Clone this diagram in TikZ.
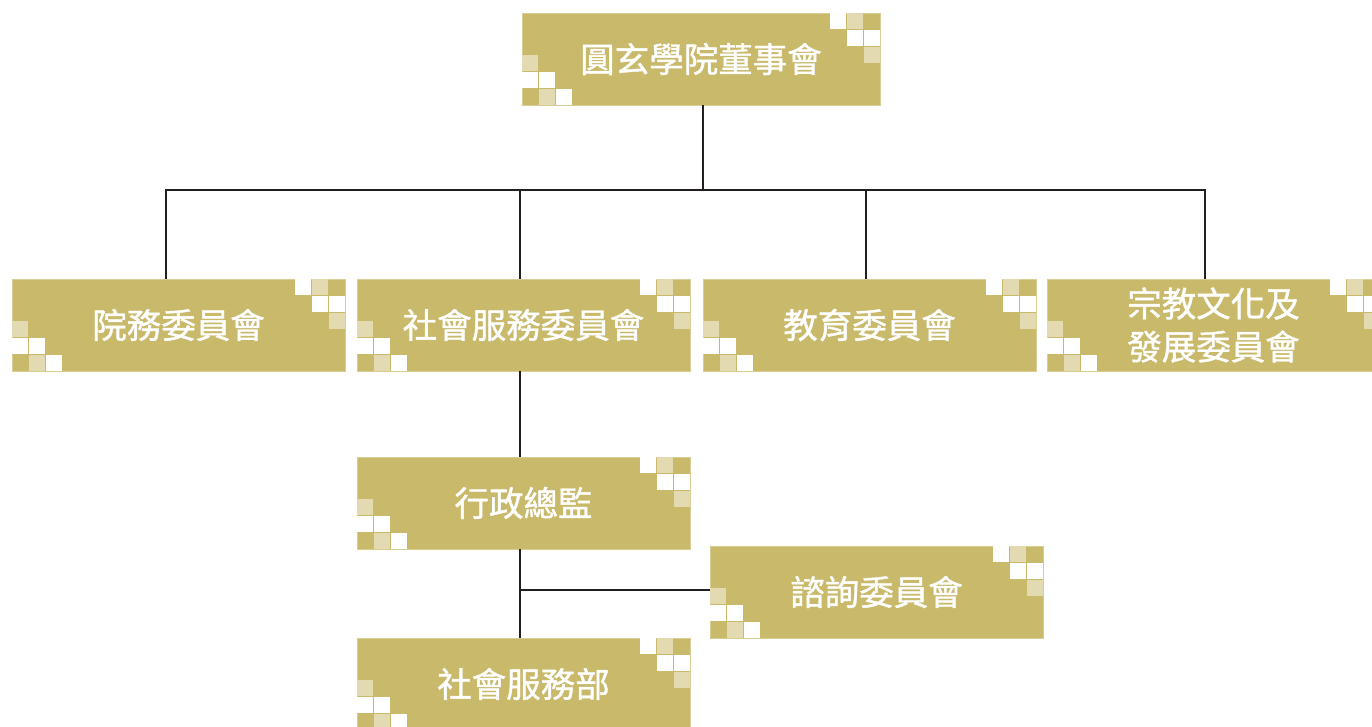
\documentclass[tikz,border=0pt]{standalone}
\usepackage{fontspec}
\newfontfamily\cjk{Noto Sans CJK TC}[FakeBold=1.2]
\definecolor{gold}{RGB}{201,185,107}
\definecolor{goldlight}{RGB}{227,218,178}
\definecolor{linec}{RGB}{35,31,32}
\tikzset{
  orgbox/.style={fill=gold, draw=goldlight!60!gold, line width=0.6pt, minimum width=333pt, minimum height=92pt, inner sep=0pt,
    text=white, font=\cjk\fontsize{34.5}{43}\selectfont, align=center},
  wide/.style={minimum width=358pt},
  sqw/.style={fill=white},
  sql/.style={fill=goldlight},
  conn/.style={draw=linec, line width=2pt},
}
\newcommand\boxdeco[1]{%
  \begin{scope}[shift={(#1.north east)}]
    \fill[sqw] (-50,0) rectangle (-34,16);
    \fill[sql] (-33,0) rectangle (-17,16);
    \fill[sqw] (-33,17) rectangle (-17,33);
    \fill[sqw] (-16,17) rectangle (0,33);
    \fill[sql] (-16,34) rectangle (0,50);
  \end{scope}
  \begin{scope}[shift={(#1.south west)}]
    \fill[sql] (0,-50) rectangle (16,-34);
    \fill[sqw] (0,-33) rectangle (16,-17);
    \fill[sqw] (17,-33) rectangle (33,-17);
    \fill[sql] (17,-16) rectangle (33,0);
    \fill[sqw] (34,-16) rectangle (50,0);
  \end{scope}}
\begin{document}
\begin{tikzpicture}[x=1pt,y=-1pt]
\useasboundingbox (0,0) rectangle (1372,726);
\clip (0,0) rectangle (1372,726);
\node[orgbox,wide] (t) at (701,59) {圓玄學院董事會};
\node[orgbox] (a) at (178.5,325) {院務委員會};
\node[orgbox] (b) at (523.5,325) {社會服務委員會};
\node[orgbox] (c) at (869.5,325) {教育委員會};
\node[orgbox] (d) at (1213.5,325) {宗教文化及\\發展委員會};
\node[orgbox] (e) at (523.5,503) {行政總監};
\node[orgbox] (f) at (876.5,592) {諮詢委員會};
\node[orgbox] (g) at (523.5,684) {社會服務部};
% connectors
\draw[conn] ([xshift=2]t.south) -- ++(0,85) -| ([xshift=-12.5]a.north);
\draw[conn] ([xshift=2]t.south) -- ++(0,85) -| ([xshift=-3.5]b.north);
\draw[conn] ([xshift=2]t.south) -- ++(0,85) -| ([xshift=-3.5]c.north);
\draw[conn] ([xshift=2]t.south) -- ++(0,85) -| ([xshift=-8.5]d.north);
\draw[conn] ([xshift=-3.5]b.south) -- ([xshift=-3.5]e.north);
\draw[conn] ([xshift=-3.5]e.south) -- ([xshift=-3.5]g.north);
\draw[conn] ([yshift=2]f.west) -| ([xshift=-3.5]g.north);
\foreach \n in {t,a,b,c,d,e,f,g} {\boxdeco{\n}}
\end{tikzpicture}
\end{document}
